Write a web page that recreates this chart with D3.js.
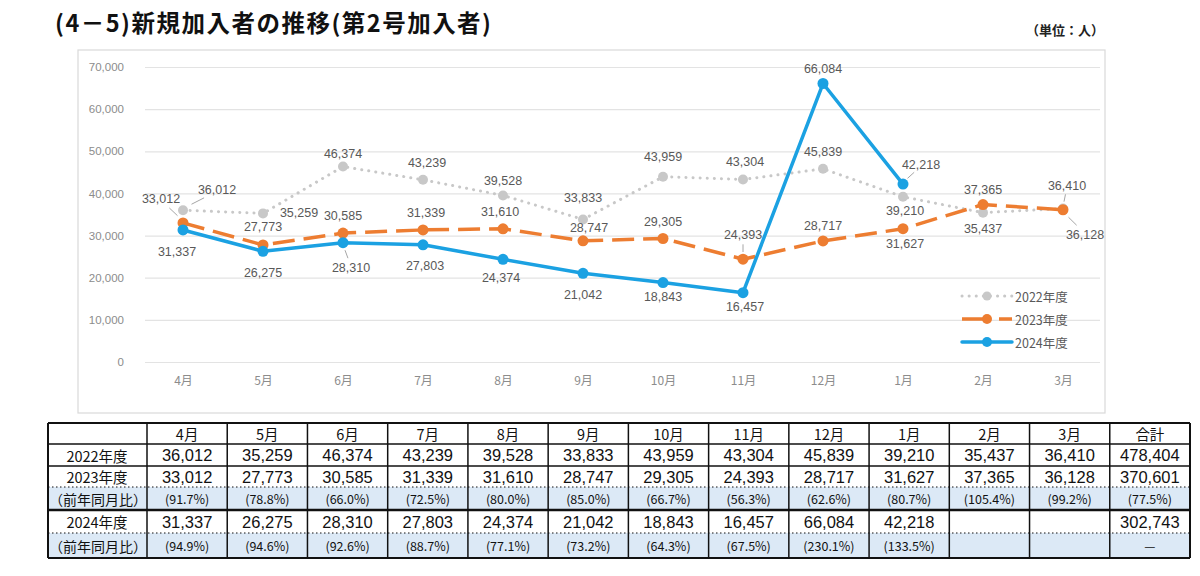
<!DOCTYPE html>
<html>
<head>
<meta charset="utf-8">
<script src="https://cdn.jsdelivr.net/npm/d3@7"></script>
<style>
  html, body { margin: 0; padding: 0; background: #fff; }
  svg { display: block; }
</style>
</head>
<body>
<svg id="chart" width="1200" height="576"></svg>
<script>
// ---- data ----
const months = ['4月', '5月', '6月', '7月', '8月', '9月', '10月', '11月', '12月', '1月', '2月', '3月'];
const fy2022 = [36012, 35259, 46374, 43239, 39528, 33833, 43959, 43304, 45839, 39210, 35437, 36410];
const fy2023 = [33012, 27773, 30585, 31339, 31610, 28747, 29305, 24393, 28717, 31627, 37365, 36128];
const fy2024 = [31337, 26275, 28310, 27803, 24374, 21042, 18843, 16457, 66084, 42218, null, null];
const ratio2023 = [91.7, 78.8, 66.0, 72.5, 80.0, 85.0, 66.7, 56.3, 62.6, 80.7, 105.4, 99.2];
const ratio2024 = [94.9, 94.6, 92.6, 88.7, 77.1, 73.2, 64.3, 67.5, 230.1, 133.5, null, null];
const total2022 = 478404;
const total2023 = 370601;
const total2024 = 302743;
const totalRatio2023 = 77.5;
const yTicks = [0, 10000, 20000, 30000, 40000, 50000, 60000, 70000];
const seriesNames = ['2022年度', '2023年度', '2024年度'];

// label placement (offset of label centre from its point, leader line flag)
const place2022 = [[34,-20,1],[36,0],[0,-13],[4,-17],[0,-14],[0,-21],[0,-20],[2,-18],[0,-17],[2,14],[0,16],[4,-23,1]];
const place2023 = [[-22,-24,1],[0,-18],[0,-17],[3,-17],[-3,-17],[6,-13],[0,-17],[0,-24,1],[0,-15],[2,15],[0,-15],[22,25,1]];
const place2024 = [[-6,22],[0,22],[8,25,1],[2,21],[-2,19],[0,22],[0,14],[2,14],[0,-15],[18,-19,1]];

const svg = d3.select('#chart');
const fmt = d3.format(',');
const jp = '"Noto Sans CJK JP", "Noto Sans", sans-serif';
const lat = '"Liberation Sans", "DejaVu Sans", sans-serif';

// ---- title ----
svg.append('text')
    .attr('x', 55).attr('y', 32)
    .attr('textLength', 436).attr('lengthAdjust', 'spacing')
    .style('font-family', jp).style('font-size', '23.5px').style('font-weight', 'bold')
    .attr('fill', '#111')
    .text('(4－5)新規加入者の推移(第2号加入者)');

svg.append('text')
    .attr('x', 1104).attr('y', 35).attr('text-anchor', 'end')
    .style('font-family', jp).style('font-size', '13px').style('font-weight', 'bold')
    .attr('fill', '#222')
    .text('（単位：人）');

// ---- chart frame ----
svg.append('rect')
    .attr('x', 78).attr('y', 50).attr('width', 1027).attr('height', 363)
    .attr('fill', '#fff').attr('stroke', '#d9d9d9').attr('stroke-width', 1.2);

const x = d3.scalePoint().domain(months).range([143, 1103]).padding(0.5);
const y = d3.scaleLinear().domain([0, 70000]).range([362, 67]);

// gridlines
svg.append('g')
    .attr('transform', 'translate(145,0)')
    .call(d3.axisLeft(y).tickValues(yTicks).tickSize(-955).tickFormat(''))
    .call(g => g.select('.domain').remove())
    .call(g => g.selectAll('line').attr('stroke', '#e3e3e3').attr('stroke-width', 1.2));

// y axis labels
svg.append('g')
    .attr('transform', 'translate(124,0)')
    .call(d3.axisLeft(y).tickValues(yTicks).tickSize(0).tickPadding(0).tickFormat(fmt))
    .call(g => g.select('.domain').remove())
    .call(g => g.selectAll('text')
        .style('font-family', lat).style('font-size', '11.5px').attr('fill', '#8c8c8c'));

// x axis labels
svg.append('g')
    .attr('transform', 'translate(0,376)')
    .call(d3.axisBottom(x).tickSize(0).tickPadding(0))
    .call(g => g.select('.domain').remove())
    .call(g => g.selectAll('text')
        .attr('dy', '0.71em')
        .style('font-family', jp).style('font-size', '12px').attr('fill', '#8c8c8c'));

// ---- series ----
const series = [
    { name: seriesNames[0], values: fy2022, place: place2022, color: '#c8c8c8', width: 3, dash: '0.1 7', cap: 'round', r: 5 },
    { name: seriesNames[1], values: fy2023, place: place2023, color: '#ed7d31', width: 3.5, dash: '22 9', cap: 'butt', r: 5.5 },
    { name: seriesNames[2], values: fy2024, place: place2024, color: '#1ba1e2', width: 3.5, dash: null, cap: 'round', r: 5.5 }
];

const line = d3.line()
    .defined(d => d.v != null)
    .x(d => x(d.m))
    .y(d => y(d.v));

series.forEach(s => {
    const pts = s.values.map((v, i) => ({ m: months[i], v: v, p: s.place[i] }));
    const g = svg.append('g');
    g.append('path')
        .datum(pts)
        .attr('d', line)
        .attr('fill', 'none')
        .attr('stroke', s.color)
        .attr('stroke-width', s.width)
        .attr('stroke-linecap', s.cap)
        .attr('stroke-linejoin', 'round')
        .attr('stroke-dasharray', s.dash);
    g.selectAll('circle')
        .data(pts.filter(d => d.v != null))
        .join('circle')
        .attr('cx', d => x(d.m))
        .attr('cy', d => y(d.v))
        .attr('r', s.r)
        .attr('fill', s.color);
    s.pts = pts.filter(d => d.v != null);
});

// data labels (drawn after all lines)
series.forEach(s => {
    const g = svg.append('g');
    // leader lines
    g.selectAll('line')
        .data(s.pts.filter(d => d.p[2]))
        .join('line')
        .attr('x1', d => x(d.m) + d.p[0] * 0.25)
        .attr('y1', d => y(d.v) + d.p[1] * 0.3)
        .attr('x2', d => x(d.m) + d.p[0] * 0.62)
        .attr('y2', d => y(d.v) + d.p[1] * 0.62)
        .attr('stroke', '#a6a6a6').attr('stroke-width', 1);
    g.selectAll('text')
        .data(s.pts)
        .join('text')
        .attr('x', d => x(d.m) + d.p[0])
        .attr('y', d => y(d.v) + d.p[1])
        .attr('text-anchor', 'middle')
        .attr('dominant-baseline', 'central')
        .style('font-family', lat).style('font-size', '12.5px')
        .attr('fill', '#595959')
        .text(d => fmt(d.v));
});

// legend
const legend = svg.append('g');
series.forEach((s, i) => {
    const ly = 296 + i * 23;
    legend.append('line')
        .attr('x1', 962).attr('x2', 1012).attr('y1', ly).attr('y2', ly)
        .attr('stroke', s.color).attr('stroke-width', s.width)
        .attr('stroke-linecap', s.cap)
        .attr('stroke-dasharray', s.dash ? (i === 0 ? '0.1 7' : '28 9') : null);
    legend.append('circle').attr('cx', 987).attr('cy', ly).attr('r', s.r - 0.5).attr('fill', s.color);
    legend.append('text')
        .attr('x', 1015).attr('y', ly).attr('dominant-baseline', 'central')
        .style('font-family', jp).style('font-size', '12.5px').attr('fill', '#595959')
        .text(s.name);
});

// ---- table ----
const cols = months.concat(['合計']);
const cx = d3.scaleBand().domain(cols).range([147, 1190]);
const rowY = [423, 444, 466, 487, 510, 533, 558];
const pct = v => v == null ? '' : '(' + v.toFixed(1) + '%)';
const num = v => v == null ? '' : fmt(v);

const rows = [
    { label: '', cells: cols, kind: 'head' },
    { label: '2022年度', cells: fy2022.map(num).concat([num(total2022)]), kind: 'num' },
    { label: '2023年度', cells: fy2023.map(num).concat([num(total2023)]), kind: 'num' },
    { label: '（前年同月比）', cells: ratio2023.map(pct).concat([pct(totalRatio2023)]), kind: 'ratio' },
    { label: '2024年度', cells: fy2024.map(num).concat([num(total2024)]), kind: 'num' },
    { label: '（前年同月比）', cells: ratio2024.map(pct).concat(['—']), kind: 'ratio' }
];

const tbl = svg.append('g');
tbl.append('clipPath').attr('id', 'labclip')
    .append('rect').attr('x', 48).attr('y', 420).attr('width', 99).attr('height', 140);

const cellFont = kind => kind === 'num' ? lat : jp;
const cellSize = kind => kind === 'num' ? '16.5px' : kind === 'ratio' ? '12.5px' : '14.5px';

rows.forEach((r, i) => {
    const y0 = rowY[i], y1 = rowY[i + 1], ym = (y0 + y1) / 2;
    if (r.kind === 'ratio') {
        tbl.append('rect').attr('x', 48).attr('y', y0).attr('width', 1142).attr('height', y1 - y0)
            .attr('fill', '#dce9f6');
    }
    tbl.append('text')
        .attr('x', r.kind === 'ratio' ? 49 : 97).attr('y', ym)
        .attr('text-anchor', r.kind === 'ratio' ? 'start' : 'middle')
        .attr('dominant-baseline', 'central')
        .attr('clip-path', 'url(#labclip)')
        .style('font-family', jp).style('font-size', r.kind === 'ratio' ? '14px' : '14.5px')
        .attr('fill', '#111')
        .text(r.label);
    tbl.selectAll(null)
        .data(r.cells.map((c, j) => ({ c: c, col: cols[j] })))
        .join('text')
        .attr('x', d => cx(d.col) + cx.bandwidth() / 2)
        .attr('y', ym)
        .attr('text-anchor', 'middle')
        .attr('dominant-baseline', 'central')
        .style('font-family', d => d.c === '—' ? jp : cellFont(r.kind))
        .style('font-size', cellSize(r.kind))
        .attr('fill', '#111')
        .text(d => d.c);
});

// grid lines of table
const hStyle = [
    { w: 2, dash: null }, { w: 1.5, dash: null }, { w: 1.5, dash: null },
    { w: 1, dash: '1.5 2.5' }, { w: 2.5, dash: null }, { w: 1, dash: '1.5 2.5' }, { w: 2, dash: null }
];
rowY.forEach((yy, i) => {
    tbl.append('line').attr('x1', 48).attr('x2', 1190).attr('y1', yy).attr('y2', yy)
        .attr('stroke', '#111').attr('stroke-width', hStyle[i].w)
        .attr('stroke-dasharray', hStyle[i].dash);
});
const vx = [48].concat(cols.map(c => cx(c))).concat([1190]);
vx.forEach((xx, i) => {
    tbl.append('line').attr('x1', xx).attr('x2', xx).attr('y1', rowY[0]).attr('y2', rowY[6])
        .attr('stroke', '#111').attr('stroke-width', (i === 0 || i === vx.length - 1) ? 2 : 1.5);
});
</script>
</body>
</html>
